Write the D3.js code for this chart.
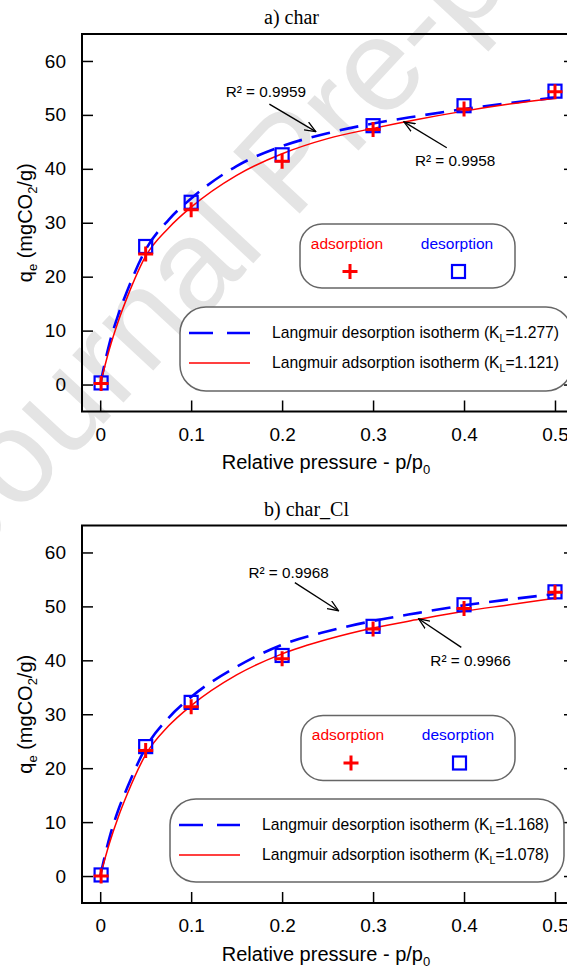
<!DOCTYPE html>
<html>
<head>
<meta charset="utf-8">
<script src="https://cdnjs.cloudflare.com/ajax/libs/d3/7.8.5/d3.min.js"></script>
<style>
  body { margin: 0; background: #fff; }
  svg { display: block; }
</style>
</head>
<body>
<div id="chart"></div>
<script>
// measured uptake, relative pressure p/p0
var pressure = [0.001, 0.05, 0.1, 0.2, 0.3, 0.4, 0.5];
var charAds = [0.2, 24.2, 32.4, 41.4, 47.3, 51.1, 54.3];
var charDes = [0.3, 25.6, 33.8, 42.6, 48.0, 51.7, 54.4];
var charClAds = [0.0, 23.3, 31.4, 40.3, 45.8, 49.6, 52.6];
var charClDes = [0.2, 24.0, 32.2, 40.9, 46.3, 50.3, 52.7];

// Langmuir fits
var fitPressure = [0, 0.01, 0.02, 0.03, 0.05, 0.075, 0.1, 0.15, 0.2, 0.25, 0.3, 0.35, 0.4, 0.45, 0.5];
var charAdsFit = [0, 6.5, 11.8, 16.3, 23.8, 29, 32.9, 38.8, 42.8, 45.6, 47.5, 49.2, 50.7, 52, 53.1];
var charDesFit = [0, 7.5, 13, 17.5, 25, 30.5, 34.5, 40.5, 44.2, 46.6, 48.4, 49.8, 51.1, 52.2, 53.2];
var charClAdsFit = [0, 6, 11, 15.3, 22.5, 27.8, 31.6, 37.3, 41.2, 43.9, 46, 47.6, 49.1, 50.3, 51.5];
var charClDesFit = [0, 7, 12.3, 16.5, 23.8, 29.3, 33.2, 38.8, 42.9, 45.4, 47.3, 48.8, 50.2, 51.3, 52.3];

var xTicks = [0, 0.1, 0.2, 0.3, 0.4, 0.5];
var yTicks = [0, 10, 20, 30, 40, 50, 60];
var panelTitles = ["a) char", "b) char_Cl"];
var desorptionKL = ["1.277", "1.168"];
var adsorptionKL = ["1.121", "1.078"];
var desorptionR2 = ["0.9959", "0.9968"];
var adsorptionR2 = ["0.9958", "0.9966"];

var RED = "#ff0000", BLUE = "#0000ff";
var sansFont = "'Liberation Sans', Arial, sans-serif";
var serifFont = "'Liberation Serif', 'Times New Roman', serif";

var svg, width = 567, height = 966;

function setup() {
  svg = d3.select("#chart").append("svg")
    .attr("width", width)
    .attr("height", height);

  svg.append("defs").append("marker")
    .attr("id", "arrow")
    .attr("viewBox", "0 0 12 10")
    .attr("refX", 11).attr("refY", 5)
    .attr("markerWidth", 12).attr("markerHeight", 10)
    .attr("markerUnits", "userSpaceOnUse")
    .attr("orient", "auto")
    .append("path")
    .attr("d", "M0,0.5L11,5L0,9.5")
    .attr("fill", "none")
    .attr("stroke", "#000")
    .attr("stroke-width", 1.3);

  // watermark of the preprint
  svg.append("text")
    .attr("transform", "translate(-28,565) rotate(-47)")
    .attr("font-family", sansFont)
    .attr("font-size", 132)
    .attr("fill", "#e4e4e4")
    .text("Journal Pre-proof");
}

function crossPath(s) { return "M" + (-s) + ",0H" + s + "M0," + (-s) + "V" + s; }

function drawPanel(cfg) {
  var g = svg.append("g").attr("transform", "translate(0," + cfg.offset + ")");

  var x = d3.scaleLinear().domain([-0.02, 0.522]).range([82, 575]);
  var y = d3.scaleLinear().domain([-5, 65]).range([411.5, 34]);

  // title
  g.append("text")
    .attr("x", 264).attr("y", 24)
    .attr("font-family", serifFont)
    .attr("font-size", 20)
    .text(cfg.title);

  // frame
  g.append("rect")
    .attr("x", x.range()[0]).attr("y", y.range()[1])
    .attr("width", x.range()[1] - x.range()[0])
    .attr("height", y.range()[0] - y.range()[1])
    .attr("fill", "none").attr("stroke", "#000").attr("stroke-width", 2);

  // axes, ticks point inward
  var xAxis = g.append("g")
    .attr("transform", "translate(0," + y.range()[0] + ")")
    .call(d3.axisBottom(x).tickValues(xTicks).tickSize(-11).tickPadding(16).tickFormat(function(d) { return d; }));
  var yAxis = g.append("g")
    .attr("transform", "translate(" + x.range()[0] + ",0)")
    .call(d3.axisLeft(y).tickValues(yTicks).tickSize(-11).tickPadding(16));
  var yAxisR = g.append("g")
    .attr("transform", "translate(" + x.range()[1] + ",0)")
    .call(d3.axisRight(y).tickValues(yTicks).tickSize(-11).tickFormat(""));
  [xAxis, yAxis, yAxisR].forEach(function(a) {
    a.select(".domain").remove();
    a.attr("font-family", sansFont).attr("font-size", 19);
    a.selectAll("line").attr("stroke-width", 1.5);
    a.selectAll("text").attr("fill", "#000");
  });

  // axis titles
  var xl = g.append("text")
    .attr("x", 326).attr("y", 469)
    .attr("text-anchor", "middle")
    .attr("font-family", sansFont).attr("font-size", 20);
  xl.append("tspan").text("Relative pressure - p/p");
  xl.append("tspan").attr("dy", 5).attr("font-size", 13).text("0");

  var yl = g.append("text")
    .attr("transform", "translate(32," + (y.range()[0] + y.range()[1]) / 2 + ") rotate(-90)")
    .attr("text-anchor", "middle")
    .attr("font-family", sansFont).attr("font-size", 20);
  yl.append("tspan").text("q");
  yl.append("tspan").attr("dy", 5).attr("font-size", 13).text("e");
  yl.append("tspan").attr("dy", -5).text(" (mgCO");
  yl.append("tspan").attr("dy", 5).attr("font-size", 13).text("2");
  yl.append("tspan").attr("dy", -5).text("/g)");

  // fitted curves
  var line = d3.line()
    .x(function(d) { return x(d[0]); })
    .y(function(d) { return y(d[1]); })
    .curve(d3.curveMonotoneX);

  g.append("path")
    .datum(d3.zip(fitPressure, cfg.desFit))
    .attr("d", line)
    .attr("fill", "none").attr("stroke", BLUE)
    .attr("stroke-width", 2.6).attr("stroke-dasharray", "19,10");

  g.append("path")
    .datum(d3.zip(fitPressure, cfg.adsFit))
    .attr("d", line)
    .attr("fill", "none").attr("stroke", RED)
    .attr("stroke-width", 1.5);

  // measured points
  g.selectAll(".des").data(d3.zip(pressure, cfg.des)).enter().append("rect")
    .attr("x", function(d) { return x(d[0]) - 6.5; })
    .attr("y", function(d) { return y(d[1]) - 6.5; })
    .attr("width", 13).attr("height", 13)
    .attr("fill", "none").attr("stroke", BLUE).attr("stroke-width", 2.2);

  g.selectAll(".ads").data(d3.zip(pressure, cfg.ads)).enter().append("path")
    .attr("transform", function(d) { return "translate(" + x(d[0]) + "," + y(d[1]) + ")"; })
    .attr("d", crossPath(7.5))
    .attr("stroke", RED).attr("stroke-width", 3);

  // R² notes with arrows
  cfg.notes.forEach(function(n) {
    g.append("line")
      .attr("x1", x(n.from[0])).attr("y1", y(n.from[1]))
      .attr("x2", x(n.to[0])).attr("y2", y(n.to[1]))
      .attr("stroke", "#000").attr("stroke-width", 1.3)
      .attr("marker-end", "url(#arrow)");
    g.append("text")
      .attr("x", x(n.at[0])).attr("y", y(n.at[1]))
      .attr("font-family", sansFont).attr("font-size", 15.3)
      .text("R\u00b2 = " + n.label);
  });

  // symbol legend
  var mb = cfg.markerBox;
  g.append("rect")
    .attr("x", mb.x).attr("y", mb.y).attr("width", mb.w).attr("height", mb.h)
    .attr("rx", 22).attr("ry", 22)
    .attr("fill", "#fff").attr("stroke", "#666").attr("stroke-width", 1.5);
  g.append("text")
    .attr("x", mb.x + 47).attr("y", mb.y + 24.5)
    .attr("text-anchor", "middle")
    .attr("font-family", sansFont).attr("font-size", 15.5)
    .attr("fill", RED).text("adsorption");
  g.append("text")
    .attr("x", mb.x + 157).attr("y", mb.y + 24.5)
    .attr("text-anchor", "middle")
    .attr("font-family", sansFont).attr("font-size", 15.5)
    .attr("fill", BLUE).text("desorption");
  g.append("path")
    .attr("transform", "translate(" + (mb.x + 50) + "," + (mb.y + 47.5) + ")")
    .attr("d", crossPath(7.5))
    .attr("stroke", RED).attr("stroke-width", 3);
  g.append("rect")
    .attr("x", mb.x + 158.5 - 6.5).attr("y", mb.y + 47.5 - 6.5)
    .attr("width", 13).attr("height", 13)
    .attr("fill", "none").attr("stroke", BLUE).attr("stroke-width", 2.2);

  // line legend
  var lb = cfg.lineBox;
  g.append("rect")
    .attr("x", lb.x).attr("y", lb.y).attr("width", lb.w).attr("height", lb.h)
    .attr("rx", 26).attr("ry", 26)
    .attr("fill", "#fff").attr("stroke", "#666").attr("stroke-width", 1.5);

  var rows = [
    { name: "Langmuir desorption isotherm (K", kl: cfg.desKL, color: BLUE, dash: "24,14", w: 2.6 },
    { name: "Langmuir adsorption isotherm (K", kl: cfg.adsKL, color: RED, dash: null, w: 1.5 }
  ];
  rows.forEach(function(r, i) {
    var ty = lb.y + 31 + i * 30;
    g.append("line")
      .attr("x1", lb.x + 9).attr("x2", lb.x + 70)
      .attr("y1", ty - 5).attr("y2", ty - 5)
      .attr("stroke", r.color).attr("stroke-width", r.w)
      .attr("stroke-dasharray", r.dash);
    var t = g.append("text")
      .attr("x", lb.x + 92).attr("y", ty)
      .attr("font-family", sansFont).attr("font-size", 15.7);
    t.append("tspan").text(r.name);
    t.append("tspan").attr("dy", 4).attr("font-size", 10.5).text("L");
    t.append("tspan").attr("dy", -4).text("=" + r.kl + ")");
  });
}

setup();

drawPanel({
  offset: 0,
  title: panelTitles[0],
  ads: charAds, des: charDes,
  adsFit: charAdsFit, desFit: charDesFit,
  desKL: desorptionKL[0], adsKL: adsorptionKL[0],
  notes: [
    { label: desorptionR2[0], at: [0.138, 53.4], from: [0.186, 52.0], to: [0.237, 46.9] },
    { label: adsorptionR2[0], at: [0.346, 40.6], from: [0.381, 43.9], to: [0.334, 48.7] }
  ],
  markerBox: { x: 300, y: 224, w: 215, h: 64 },
  lineBox: { x: 180, y: 307, w: 392, h: 84 }
});

drawPanel({
  offset: 491.5,
  title: panelTitles[1],
  ads: charClAds, des: charClDes,
  adsFit: charClAdsFit, desFit: charClDesFit,
  desKL: desorptionKL[1], adsKL: adsorptionKL[1],
  notes: [
    { label: desorptionR2[1], at: [0.163, 55.2], from: [0.214, 54.4], to: [0.262, 49.2] },
    { label: adsorptionR2[1], at: [0.363, 38.9], from: [0.397, 42.4], to: [0.350, 47.7] }
  ],
  markerBox: { x: 301, y: 224, w: 214, h: 65 },
  lineBox: { x: 170, y: 307.5, w: 394, h: 83 }
});
</script>
</body>
</html>
